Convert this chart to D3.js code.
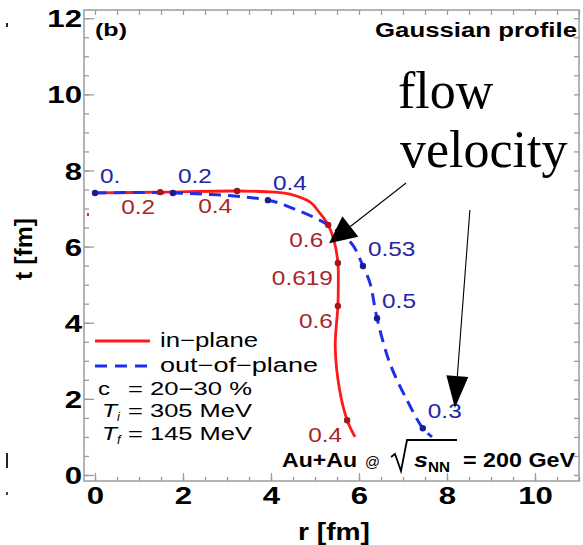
<!DOCTYPE html>
<html><head><meta charset="utf-8">
<script src="https://cdn.jsdelivr.net/npm/d3@7"></script>
<style>
html,body{margin:0;padding:0;background:#fff;}
svg{display:block;font-family:"Liberation Sans",Arial,Helvetica,sans-serif;}
</style></head>
<body>
<svg id="c" width="583" height="545"></svg>
<script>
// ---------- data ----------
const xTicks = [0, 2, 4, 6, 8, 10];
const yTicks = [0, 2, 4, 6, 8, 10, 12];
// in-plane (red, solid)
const rIn = [0, 1.48, 3.23, 4.09, 4.43, 4.89, 5.11, 5.30, 5.43, 5.52, 5.53, 5.52, 5.46, 5.56, 5.73, 5.91];
const tIn = [7.41, 7.43, 7.46, 7.43, 7.38, 7.17, 6.88, 6.57, 6.17, 5.57, 5.00, 4.44, 3.36, 2.23, 1.44, 1.00];
const rInDots = [1.48, 3.23, 5.30, 5.52, 5.52, 5.73];
const tInDots = [7.43, 7.46, 6.57, 5.57, 4.44, 1.44];
const vInLabels = ["0.2", "0.4", "0.6", "0.619", "0.6", "0.4"];
// out-of-plane (blue, dashed)
const rOut = [0, 1.77, 3.93, 4.59, 5.18, 5.57, 5.86, 6.09, 6.25, 6.41, 6.70, 7.09, 7.45, 7.66];
const tOut = [7.41, 7.41, 7.22, 6.96, 6.65, 6.36, 6.04, 5.49, 5.04, 4.12, 2.94, 1.97, 1.23, 1.00];
const rOutDots = [0, 1.77, 3.93, 6.09, 6.41, 7.45];
const tOutDots = [7.41, 7.41, 7.22, 5.49, 4.12, 1.23];
const vOutLabels = ["0.", "0.2", "0.4", "0.53", "0.5", "0.3"];
// annotation arrows (data units): [rStart, tStart, rTip, tTip]
const arrowA = [7.07, 7.67, 5.32, 6.09];
const arrowB = [8.52, 6.96, 8.18, 1.76];

// ---------- layout ----------
const svg = d3.select("#c");
const x = d3.scaleLinear().domain([-0.25, 11]).range([84, 579]);
const y = d3.scaleLinear().domain([0, 12]).range([475, 18.2]);
const X0 = x(-0.25), X1 = x(11), Y0 = 481, Y1 = 10;
const grey = "#9c9c9c";
const SANS = "Liberation Sans, Arial, Helvetica, sans-serif";
const SERIF = "Liberation Serif, Times New Roman, serif";

function stext(parent, str, px, py, o) {
  o = o || {};
  const t = parent.append("text")
    .attr("x", px).attr("y", py)
    .attr("font-size", o.size || 20)
    .attr("font-weight", o.weight || "normal")
    .attr("font-style", o.style || "normal")
    .attr("fill", o.fill || "#000")
    .attr("text-anchor", o.anchor || "start")
    .style("font-family", o.family || SANS)
    .text(str);
  if (o.len) t.attr("textLength", o.len).attr("lengthAdjust", "spacingAndGlyphs");
  return t;
}

// frame
svg.append("rect").attr("x", X0).attr("y", Y1).attr("width", X1 - X0).attr("height", Y0 - Y1)
  .attr("fill", "none").attr("stroke", grey).attr("stroke-width", 1.5);

const minorX = d3.range(0, 11.01, 0.5);
const minorY = d3.range(0, 12.01, 0.5);

// bottom axis (major + minor ticks, inward)
const gB = svg.append("g").attr("transform", `translate(0,${Y0})`);
gB.call(d3.axisBottom(x).tickValues(minorX).tickSizeInner(-4).tickSizeOuter(0).tickFormat(""));
const gBM = svg.append("g").attr("transform", `translate(0,${Y0})`);
gBM.call(d3.axisBottom(x).tickValues(xTicks).tickSizeInner(-8).tickSizeOuter(0).tickFormat(d3.format("d")));
// top ticks
const gT = svg.append("g").attr("transform", `translate(0,${Y1})`);
gT.call(d3.axisTop(x).tickValues(minorX).tickSizeInner(-5).tickSizeOuter(0).tickFormat(""));
// left axis
const gL = svg.append("g").attr("transform", `translate(${X0},0)`);
gL.call(d3.axisLeft(y).tickValues(minorY).tickSizeInner(-5).tickSizeOuter(0).tickFormat(""));
const gLM = svg.append("g").attr("transform", `translate(${X0},0)`);
gLM.call(d3.axisLeft(y).tickValues(yTicks).tickSizeInner(-10).tickSizeOuter(0).tickFormat(d3.format("d")));
// right ticks
const gR = svg.append("g").attr("transform", `translate(${X1},0)`);
gR.call(d3.axisRight(y).tickValues(minorY).tickSizeInner(-5).tickSizeOuter(0).tickFormat(""));

svg.selectAll(".domain").remove();
svg.selectAll(".tick line").attr("stroke", grey).attr("stroke-width", 1.3);

gBM.selectAll(".tick text")
  .attr("y", 23.5).attr("dy", 0)
  .attr("font-size", 24).attr("font-weight", "bold").attr("fill", "#000")
  .style("font-family", SANS)
  .attr("transform", "scale(1.3,1)");
gLM.selectAll(".tick text")
  .attr("x", -1.5).attr("dy", "0.36em")
  .attr("font-size", 24).attr("font-weight", "bold").attr("fill", "#000")
  .style("font-family", SANS)
  .attr("transform", "scale(1.3,1)");

// axis titles
stext(svg, "r [fm]", 298, 540, {size: 24, weight: "bold", len: 72});
svg.append("text").attr("transform", "translate(32,249) rotate(-90)")
  .attr("text-anchor", "middle").attr("font-size", 24).attr("font-weight", "bold")
  .style("font-family", SANS)
  .attr("textLength", 62).attr("lengthAdjust", "spacingAndGlyphs").text("t [fm]");

// panel texts
stext(svg, "(b)", 95, 36, {size: 18, weight: "bold", len: 32});
stext(svg, "Gaussian profile", 375, 37, {size: 20, weight: "bold", len: 202});

// curves
const line = d3.line().x(d => x(d[0])).y(d => y(d[1])).curve(d3.curveCatmullRom.alpha(0.5));
const inPts = rIn.map((r, i) => [r, tIn[i]]);
const outPts = rOut.map((r, i) => [r, tOut[i]]);

svg.append("path").attr("d", line(inPts)).attr("fill", "none")
  .attr("stroke", "#ff1a1a").attr("stroke-width", 2.8);
svg.append("path").attr("d", line(outPts)).attr("fill", "none")
  .attr("stroke", "#1f2ee8").attr("stroke-width", 3).attr("stroke-dasharray", "12,7");

// dots + labels
const redDark = "#a3171b", blueDark = "#1a1c96";
rInDots.forEach((r, i) => {
  svg.append("circle").attr("cx", x(r)).attr("cy", y(tInDots[i])).attr("r", 3.2).attr("fill", redDark);
  svg.append("text").attr("transform", `translate(${x(r) - 5},${y(tInDots[i]) + 22}) scale(1.22,1)`)
    .attr("text-anchor", "end").attr("font-size", 20).attr("fill", "#a8262a")
    .style("font-family", SANS).text(vInLabels[i]);
});
rOutDots.forEach((r, i) => {
  svg.append("circle").attr("cx", x(r)).attr("cy", y(tOutDots[i])).attr("r", 3.2).attr("fill", blueDark);
  svg.append("text").attr("transform", `translate(${x(r) + 5},${y(tOutDots[i]) - 10}) scale(1.22,1)`)
    .attr("text-anchor", "start").attr("font-size", 20).attr("fill", "#2226a6")
    .style("font-family", SANS).text(vOutLabels[i]);
});

// legend
svg.append("line").attr("x1", 95).attr("x2", 150).attr("y1", 341).attr("y2", 341)
  .attr("stroke", "#ff1a1a").attr("stroke-width", 2.8);
svg.append("line").attr("x1", 95).attr("x2", 150).attr("y1", 366).attr("y2", 366)
  .attr("stroke", "#1f2ee8").attr("stroke-width", 2.8).attr("stroke-dasharray", "12,8");
stext(svg, "in\u2212plane", 160, 347, {size: 20, len: 98});
stext(svg, "out\u2212of\u2212plane", 160, 372, {size: 20, len: 158});
stext(svg, "c", 98, 395, {size: 18, len: 12});
stext(svg, "= 20\u221230 %", 128, 395, {size: 18, len: 124});
stext(svg, "T", 102, 417, {size: 18, style: "italic", len: 15});
stext(svg, "i", 117, 421, {size: 13, style: "italic"});
stext(svg, "= 305 MeV", 128, 417, {size: 18, len: 124});
stext(svg, "T", 102, 440, {size: 18, style: "italic", len: 15});
stext(svg, "f", 117, 444, {size: 13, style: "italic"});
stext(svg, "= 145 MeV", 128, 440, {size: 18, len: 124});

// Au+Au @ sqrt(sNN) = 200 GeV
stext(svg, "Au+Au", 282, 467, {size: 20, weight: "bold", len: 75});
stext(svg, "@", 365, 467, {size: 15, len: 15});
svg.append("path").attr("d", "M391,457 L395,454 L401,471 L407,440 L457,440")
  .attr("fill", "none").attr("stroke", "#000").attr("stroke-width", 1.8).attr("stroke-linejoin", "miter");
stext(svg, "s", 414, 467, {size: 20, weight: "bold", style: "italic", len: 14});
stext(svg, "NN", 428, 472, {size: 14, weight: "bold", len: 22});
stext(svg, "= 200 GeV", 463, 467, {size: 20, weight: "bold", len: 112});

// flow velocity annotation
stext(svg, "flow", 398, 108, {size: 52, family: SERIF});
stext(svg, "velocity", 400, 167, {size: 52, family: SERIF});

function arrow(a, headLen, headHalf) {
  const sx = x(a[0]), sy = y(a[1]), tx = x(a[2]), ty = y(a[3]);
  const dx = tx - sx, dy = ty - sy, L = Math.hypot(dx, dy);
  const ux = dx / L, uy = dy / L;
  const bx = tx - ux * headLen, by = ty - uy * headLen;
  svg.append("line").attr("x1", sx).attr("y1", sy).attr("x2", bx).attr("y2", by)
    .attr("stroke", "#000").attr("stroke-width", 1.1);
  svg.append("polygon").attr("points",
    [[tx, ty], [bx - uy * headHalf, by + ux * headHalf], [bx + uy * headHalf, by - ux * headHalf]].map(p => p.join(",")).join(" "))
    .attr("fill", "#000");
}
arrow(arrowA, 27, 13);
arrow(arrowB, 32, 11);

// small scan artefacts in the original image
svg.append("rect").attr("x", 6).attr("y", 23).attr("width", 2).attr("height", 4).attr("fill", "#222");
svg.append("rect").attr("x", 6).attr("y", 453).attr("width", 2).attr("height", 15).attr("fill", "#222");
svg.append("rect").attr("x", 6).attr("y", 492).attr("width", 2).attr("height", 3).attr("fill", "#444");
svg.append("rect").attr("x", 87).attr("y", 213).attr("width", 2).attr("height", 3).attr("fill", "#d03030");
</script>
</body></html>
